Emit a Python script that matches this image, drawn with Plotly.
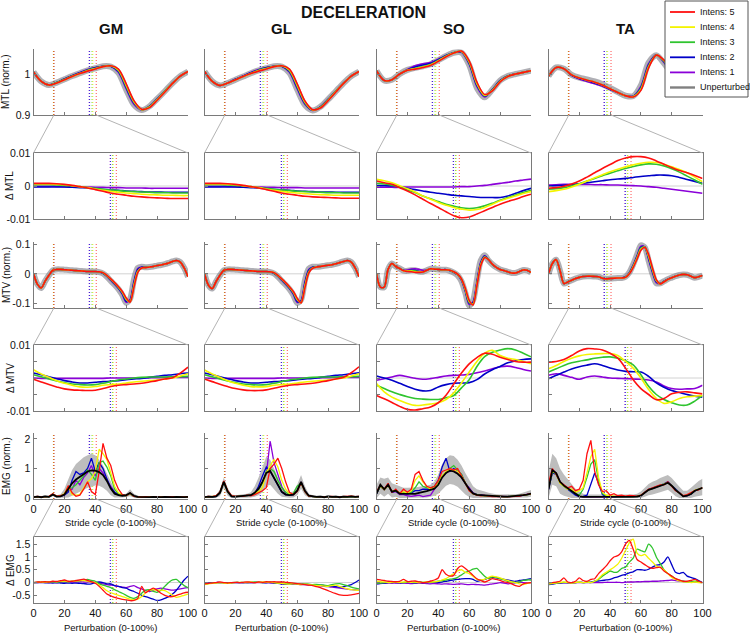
import plotly.graph_objects as go

W, H = 750, 635
SANS = "Liberation Sans, Arial, sans-serif"

MUSCLES = ["GM", "GL", "SO", "TA"]
INTENSITIES = [1, 2, 3, 4, 5]
COLORS = {1: "#8a00d8", 2: "#0000c8", 3: "#2fc42f", 4: "#f4f400", 5: "#ff1010"}
LEGEND_LABELS = {5: "Intens: 5", 4: "Intens: 4", 3: "Intens: 3", 2: "Intens: 2", 1: "Intens: 1"}

# sampling grids (% of stride cycle / % of perturbation)
GRID5 = list(range(0, 101, 5))
GRID25 = [i * 2.5 for i in range(41)]

# event markers (% stride: onset/offset of perturbation; % perturbation: markers)
ONSET = {1: 13.0, 2: 13.1, 3: 12.9, 4: 13.0, 5: 13.2}
OFFSET = {1: 36.0, 2: 36.3, 3: 37.9, 4: 38.4, 5: 40.6}
PERT_MARK = {1: 49.6, 2: 49.9, 3: 51.2, 4: 51.6, 5: 53.6}

# ---------------- MTL (norm.) ----------------
GM_MTL = {
    "unp": [1.005, 0.982, 0.973, 0.979, 0.987, 0.995, 1.002, 1.009, 1.014, 1.019, 1.018, 1.003, 0.962, 0.925, 0.912, 0.921, 0.939, 0.958, 0.978, 0.995, 1.006],
    1: [1.005, 0.982, 0.973, 0.979, 0.988, 0.996, 1.004, 1.011, 1.016, 1.019, 1.019, 1.004, 0.964, 0.926, 0.912, 0.921, 0.939, 0.958, 0.978, 0.995, 1.006],
    2: [1.005, 0.982, 0.973, 0.979, 0.988, 0.996, 1.003, 1.010, 1.015, 1.019, 1.019, 1.006, 0.967, 0.929, 0.913, 0.921, 0.939, 0.958, 0.978, 0.995, 1.006],
    3: [1.005, 0.982, 0.973, 0.979, 0.987, 0.995, 1.002, 1.009, 1.014, 1.019, 1.020, 1.008, 0.970, 0.931, 0.913, 0.920, 0.938, 0.958, 0.978, 0.995, 1.006],
    4: [1.005, 0.982, 0.973, 0.978, 0.986, 0.994, 1.001, 1.008, 1.013, 1.018, 1.020, 1.010, 0.973, 0.933, 0.913, 0.919, 0.937, 0.957, 0.977, 0.995, 1.006],
    5: [1.005, 0.982, 0.973, 0.978, 0.986, 0.994, 1.001, 1.007, 1.012, 1.018, 1.020, 1.012, 0.976, 0.935, 0.914, 0.918, 0.936, 0.956, 0.977, 0.995, 1.006],
}
GL_MTL = {
    "unp": [1.006, 0.982, 0.972, 0.978, 0.986, 0.994, 1.002, 1.009, 1.014, 1.019, 1.018, 1.003, 0.962, 0.924, 0.911, 0.920, 0.938, 0.958, 0.978, 0.995, 1.006],
    1: [1.006, 0.982, 0.972, 0.978, 0.987, 0.995, 1.004, 1.011, 1.016, 1.019, 1.019, 1.004, 0.964, 0.926, 0.911, 0.920, 0.938, 0.958, 0.978, 0.995, 1.006],
    2: [1.006, 0.982, 0.972, 0.978, 0.987, 0.995, 1.003, 1.010, 1.015, 1.019, 1.019, 1.006, 0.967, 0.928, 0.912, 0.920, 0.938, 0.958, 0.978, 0.995, 1.006],
    3: [1.006, 0.982, 0.972, 0.978, 0.986, 0.994, 1.002, 1.009, 1.014, 1.019, 1.020, 1.008, 0.970, 0.930, 0.912, 0.919, 0.937, 0.958, 0.978, 0.995, 1.006],
    4: [1.006, 0.982, 0.972, 0.978, 0.986, 0.994, 1.001, 1.008, 1.013, 1.018, 1.020, 1.010, 0.973, 0.932, 0.912, 0.918, 0.936, 0.957, 0.977, 0.995, 1.006],
    5: [1.006, 0.982, 0.972, 0.978, 0.986, 0.994, 1.001, 1.007, 1.012, 1.018, 1.020, 1.012, 0.976, 0.934, 0.913, 0.917, 0.935, 0.956, 0.977, 0.995, 1.006],
}
SO_MTL = {
    "unp": [1.008, 0.984, 0.986, 1.000, 1.010, 1.015, 1.019, 1.024, 1.034, 1.044, 1.052, 1.052, 1.022, 0.966, 0.943, 0.962, 0.984, 0.995, 1.000, 1.004, 1.008],
    1: [1.008, 0.984, 0.986, 1.000, 1.011, 1.020, 1.025, 1.028, 1.036, 1.045, 1.052, 1.053, 1.024, 0.969, 0.944, 0.962, 0.984, 0.995, 1.000, 1.004, 1.008],
    2: [1.008, 0.984, 0.986, 1.000, 1.010, 1.017, 1.022, 1.026, 1.035, 1.045, 1.052, 1.054, 1.026, 0.972, 0.946, 0.962, 0.984, 0.995, 1.000, 1.004, 1.008],
    3: [1.008, 0.984, 0.986, 1.000, 1.010, 1.014, 1.018, 1.023, 1.033, 1.044, 1.052, 1.055, 1.028, 0.975, 0.947, 0.961, 0.983, 0.995, 1.000, 1.004, 1.008],
    4: [1.008, 0.984, 0.986, 1.000, 1.009, 1.013, 1.017, 1.022, 1.032, 1.043, 1.051, 1.055, 1.030, 0.977, 0.948, 0.960, 0.982, 0.994, 1.000, 1.004, 1.008],
    5: [1.008, 0.984, 0.986, 1.000, 1.009, 1.012, 1.016, 1.021, 1.031, 1.042, 1.051, 1.056, 1.032, 0.980, 0.950, 0.959, 0.981, 0.994, 1.000, 1.004, 1.008],
}
TA_MTL = {
    "unp": [0.995, 1.016, 1.013, 0.998, 0.991, 0.987, 0.982, 0.975, 0.966, 0.956, 0.947, 0.946, 0.972, 1.028, 1.046, 1.026, 1.002, 0.987, 0.984, 0.989, 0.995],
    1: [0.995, 1.016, 1.013, 0.997, 0.988, 0.982, 0.976, 0.970, 0.962, 0.954, 0.947, 0.946, 0.970, 1.025, 1.047, 1.028, 1.002, 0.987, 0.984, 0.989, 0.995],
    2: [0.995, 1.016, 1.013, 0.997, 0.989, 0.984, 0.978, 0.972, 0.963, 0.955, 0.947, 0.946, 0.967, 1.022, 1.047, 1.030, 1.003, 0.987, 0.984, 0.989, 0.995],
    3: [0.995, 1.016, 1.013, 0.998, 0.990, 0.985, 0.980, 0.973, 0.964, 0.955, 0.947, 0.945, 0.965, 1.020, 1.046, 1.031, 1.004, 0.988, 0.984, 0.989, 0.995],
    4: [0.995, 1.016, 1.013, 0.998, 0.990, 0.985, 0.980, 0.973, 0.964, 0.955, 0.947, 0.945, 0.962, 1.017, 1.046, 1.033, 1.005, 0.988, 0.984, 0.989, 0.995],
    5: [0.995, 1.016, 1.013, 0.998, 0.990, 0.985, 0.980, 0.973, 0.964, 0.955, 0.947, 0.944, 0.960, 1.015, 1.046, 1.034, 1.006, 0.988, 0.984, 0.989, 0.995],
}

# ---------------- delta MTL (perturbation window) ----------------
GM_DMTL = {
    5: [0.0008, 0.0008, 0.0008, 0.0007, 0.0005, 0.0002, -0.0002, -0.0006, -0.0011, -0.0016, -0.0021, -0.0025, -0.0028, -0.0031, -0.0033, -0.0035, -0.0036, -0.0037, -0.0038, -0.0038, -0.0038],
    4: [0.0006, 0.0006, 0.0006, 0.0005, 0.0004, 0.0001, -0.0002, -0.0005, -0.0009, -0.0013, -0.0016, -0.0019, -0.0021, -0.0023, -0.0025, -0.0026, -0.0027, -0.0028, -0.0028, -0.0029, -0.0029],
    3: [0.0004, 0.0004, 0.0004, 0.0003, 0.0002, 0.0000, -0.0002, -0.0005, -0.0007, -0.0010, -0.0012, -0.0014, -0.0016, -0.0017, -0.0018, -0.0019, -0.0020, -0.0020, -0.0021, -0.0021, -0.0021],
    2: [-0.0003, -0.0003, -0.0003, -0.0003, -0.0003, -0.0004, -0.0005, -0.0006, -0.0008, -0.0010, -0.0012, -0.0013, -0.0015, -0.0016, -0.0017, -0.0018, -0.0018, -0.0019, -0.0019, -0.0019, -0.0019],
    1: [-0.0001, -0.0001, -0.0001, -0.0001, -0.0002, -0.0002, -0.0003, -0.0003, -0.0004, -0.0004, -0.0005, -0.0005, -0.0006, -0.0006, -0.0006, -0.0007, -0.0007, -0.0007, -0.0007, -0.0007, -0.0007],
}
GL_DMTL = {
    5: [0.0008, 0.0008, 0.0008, 0.0007, 0.0005, 0.0002, -0.0002, -0.0006, -0.0011, -0.0016, -0.0021, -0.0025, -0.0028, -0.0031, -0.0033, -0.0034, -0.0035, -0.0036, -0.0037, -0.0037, -0.0037],
    4: [0.0006, 0.0006, 0.0006, 0.0005, 0.0004, 0.0001, -0.0002, -0.0005, -0.0009, -0.0013, -0.0016, -0.0019, -0.0021, -0.0023, -0.0025, -0.0026, -0.0027, -0.0028, -0.0028, -0.0028, -0.0028],
    3: [0.0004, 0.0004, 0.0004, 0.0003, 0.0002, 0.0000, -0.0002, -0.0005, -0.0007, -0.0010, -0.0012, -0.0014, -0.0016, -0.0017, -0.0018, -0.0019, -0.0020, -0.0020, -0.0021, -0.0021, -0.0021],
    2: [-0.0003, -0.0003, -0.0003, -0.0003, -0.0003, -0.0004, -0.0005, -0.0006, -0.0008, -0.0010, -0.0012, -0.0013, -0.0015, -0.0016, -0.0017, -0.0018, -0.0018, -0.0019, -0.0019, -0.0019, -0.0019],
    1: [-0.0001, -0.0001, -0.0001, -0.0001, -0.0002, -0.0002, -0.0003, -0.0003, -0.0004, -0.0004, -0.0005, -0.0005, -0.0005, -0.0006, -0.0006, -0.0006, -0.0006, -0.0006, -0.0006, -0.0006, -0.0006],
}
SO_DMTL = {
    5: [0.0015, 0.0010, 0.0005, -0.0005, -0.0015, -0.0027, -0.0040, -0.0053, -0.0065, -0.0078, -0.0090, -0.0096, -0.0094, -0.0085, -0.0075, -0.0065, -0.0055, -0.0047, -0.0040, -0.0032, -0.0025],
    4: [0.0020, 0.0016, 0.0010, 0.0001, -0.0008, -0.0018, -0.0030, -0.0040, -0.0050, -0.0058, -0.0065, -0.0070, -0.0073, -0.0071, -0.0065, -0.0055, -0.0045, -0.0037, -0.0030, -0.0023, -0.0017],
    3: [0.0008, 0.0006, 0.0002, -0.0004, -0.0012, -0.0020, -0.0030, -0.0039, -0.0047, -0.0055, -0.0061, -0.0066, -0.0068, -0.0066, -0.0060, -0.0052, -0.0043, -0.0035, -0.0027, -0.0020, -0.0013],
    2: [0.0001, 0.0001, 0.0000, -0.0003, -0.0007, -0.0011, -0.0015, -0.0019, -0.0022, -0.0025, -0.0028, -0.0030, -0.0032, -0.0034, -0.0035, -0.0035, -0.0035, -0.0030, -0.0022, -0.0014, -0.0007],
    1: [-0.0004, -0.0004, -0.0004, -0.0004, -0.0003, -0.0003, -0.0003, -0.0003, -0.0003, -0.0003, -0.0003, -0.0002, -0.0002, 0.0000, 0.0002, 0.0005, 0.0008, 0.0011, 0.0015, 0.0018, 0.0021],
}
TA_DMTL = {
    5: [-0.0007, -0.0005, -0.0001, 0.0006, 0.0015, 0.0027, 0.0040, 0.0053, 0.0065, 0.0077, 0.0085, 0.0089, 0.0089, 0.0085, 0.0076, 0.0066, 0.0056, 0.0047, 0.0040, 0.0032, 0.0023],
    4: [-0.0017, -0.0014, -0.0010, -0.0003, 0.0005, 0.0015, 0.0025, 0.0034, 0.0043, 0.0051, 0.0058, 0.0064, 0.0069, 0.0072, 0.0071, 0.0066, 0.0058, 0.0050, 0.0040, 0.0027, 0.0013],
    3: [-0.0010, -0.0008, -0.0005, 0.0000, 0.0007, 0.0015, 0.0023, 0.0031, 0.0039, 0.0046, 0.0053, 0.0059, 0.0064, 0.0067, 0.0066, 0.0061, 0.0052, 0.0042, 0.0030, 0.0018, 0.0005],
    2: [0.0000, 0.0001, 0.0002, 0.0004, 0.0007, 0.0010, 0.0013, 0.0016, 0.0019, 0.0021, 0.0023, 0.0026, 0.0029, 0.0031, 0.0033, 0.0033, 0.0031, 0.0026, 0.0020, 0.0014, 0.0008],
    1: [0.0003, 0.0004, 0.0005, 0.0005, 0.0005, 0.0005, 0.0004, 0.0004, 0.0003, 0.0003, 0.0002, 0.0001, 0.0000, -0.0002, -0.0004, -0.0007, -0.0010, -0.0013, -0.0016, -0.0019, -0.0022],
}

# ---------------- MTV (norm.) ----------------
GM_MTV = {
    "unp": [0.0, -0.035, -0.048, -0.025, -0.005, 0.012, 0.015, 0.015, 0.014, 0.013, 0.012, 0.011, 0.010, 0.009, 0.008, 0.008, 0.008, 0.006, 0.001, -0.010, -0.024, -0.037, -0.052, -0.072, -0.098, -0.085, -0.020, 0.020, 0.024, 0.022, 0.023, 0.025, 0.028, 0.030, 0.033, 0.037, 0.042, 0.045, 0.040, 0.020, -0.010],
    1: [0.0, -0.035, -0.048, -0.025, -0.005, 0.012, 0.015, 0.015, 0.014, 0.013, 0.012, 0.011, 0.010, 0.009, 0.008, 0.008, 0.008, 0.006, 0.002, -0.009, -0.022, -0.035, -0.050, -0.070, -0.096, -0.088, -0.025, 0.018, 0.023, 0.022, 0.023, 0.025, 0.028, 0.030, 0.033, 0.037, 0.042, 0.045, 0.040, 0.020, -0.010],
    2: [0.0, -0.035, -0.048, -0.025, -0.005, 0.012, 0.015, 0.015, 0.014, 0.013, 0.012, 0.011, 0.010, 0.009, 0.008, 0.008, 0.008, 0.006, 0.002, -0.008, -0.021, -0.034, -0.049, -0.067, -0.093, -0.090, -0.030, 0.015, 0.022, 0.022, 0.023, 0.025, 0.028, 0.030, 0.033, 0.037, 0.042, 0.045, 0.040, 0.020, -0.010],
    3: [0.0, -0.035, -0.048, -0.025, -0.005, 0.012, 0.015, 0.015, 0.014, 0.013, 0.012, 0.011, 0.010, 0.009, 0.008, 0.008, 0.008, 0.007, 0.003, -0.007, -0.019, -0.032, -0.047, -0.064, -0.088, -0.093, -0.036, 0.010, 0.021, 0.022, 0.023, 0.025, 0.028, 0.030, 0.033, 0.037, 0.042, 0.045, 0.040, 0.020, -0.010],
    4: [0.0, -0.035, -0.048, -0.025, -0.005, 0.012, 0.015, 0.015, 0.014, 0.013, 0.012, 0.011, 0.010, 0.009, 0.008, 0.008, 0.008, 0.007, 0.004, -0.006, -0.018, -0.031, -0.045, -0.062, -0.085, -0.095, -0.041, 0.007, 0.020, 0.021, 0.023, 0.025, 0.028, 0.030, 0.033, 0.037, 0.042, 0.045, 0.040, 0.020, -0.010],
    5: [0.0, -0.035, -0.048, -0.025, -0.005, 0.012, 0.015, 0.015, 0.014, 0.013, 0.012, 0.011, 0.010, 0.009, 0.008, 0.008, 0.008, 0.007, 0.004, -0.005, -0.017, -0.030, -0.044, -0.060, -0.082, -0.096, -0.045, 0.005, 0.020, 0.021, 0.023, 0.025, 0.028, 0.030, 0.033, 0.037, 0.042, 0.045, 0.040, 0.020, -0.010],
}
GL_MTV = {
    "unp": [0.0, -0.038, -0.050, -0.026, -0.005, 0.012, 0.015, 0.015, 0.014, 0.013, 0.012, 0.011, 0.010, 0.009, 0.008, 0.008, 0.008, 0.006, 0.001, -0.010, -0.024, -0.037, -0.052, -0.072, -0.099, -0.088, -0.022, 0.017, 0.024, 0.024, 0.025, 0.027, 0.029, 0.031, 0.034, 0.038, 0.042, 0.045, 0.040, 0.020, -0.010],
    1: [0.0, -0.038, -0.050, -0.026, -0.005, 0.012, 0.015, 0.015, 0.014, 0.013, 0.012, 0.011, 0.010, 0.009, 0.008, 0.008, 0.008, 0.006, 0.002, -0.009, -0.022, -0.035, -0.050, -0.070, -0.097, -0.091, -0.027, 0.015, 0.023, 0.024, 0.025, 0.027, 0.029, 0.031, 0.034, 0.038, 0.042, 0.045, 0.040, 0.020, -0.010],
    2: [0.0, -0.038, -0.050, -0.026, -0.005, 0.012, 0.015, 0.015, 0.014, 0.013, 0.012, 0.011, 0.010, 0.009, 0.008, 0.008, 0.008, 0.006, 0.002, -0.008, -0.021, -0.034, -0.049, -0.067, -0.094, -0.093, -0.032, 0.012, 0.022, 0.024, 0.025, 0.027, 0.029, 0.031, 0.034, 0.038, 0.042, 0.045, 0.040, 0.020, -0.010],
    3: [0.0, -0.038, -0.050, -0.026, -0.005, 0.012, 0.015, 0.015, 0.014, 0.013, 0.012, 0.011, 0.010, 0.009, 0.008, 0.008, 0.008, 0.007, 0.003, -0.007, -0.019, -0.032, -0.047, -0.064, -0.089, -0.096, -0.038, 0.008, 0.021, 0.024, 0.025, 0.027, 0.029, 0.031, 0.034, 0.038, 0.042, 0.045, 0.040, 0.020, -0.010],
    4: [0.0, -0.038, -0.050, -0.026, -0.005, 0.012, 0.015, 0.015, 0.014, 0.013, 0.012, 0.011, 0.010, 0.009, 0.008, 0.008, 0.008, 0.007, 0.004, -0.006, -0.018, -0.031, -0.045, -0.062, -0.086, -0.098, -0.043, 0.005, 0.020, 0.023, 0.025, 0.027, 0.029, 0.031, 0.034, 0.038, 0.042, 0.045, 0.040, 0.020, -0.010],
    5: [0.0, -0.038, -0.050, -0.026, -0.005, 0.012, 0.015, 0.015, 0.014, 0.013, 0.012, 0.011, 0.010, 0.009, 0.008, 0.008, 0.008, 0.007, 0.004, -0.005, -0.017, -0.030, -0.044, -0.060, -0.083, -0.099, -0.047, 0.003, 0.019, 0.023, 0.025, 0.027, 0.029, 0.031, 0.034, 0.038, 0.042, 0.045, 0.040, 0.020, -0.010],
}
SO_MTV = {
    "unp": [0.0, -0.045, -0.045, 0.015, 0.035, 0.025, 0.018, 0.011, 0.010, 0.012, 0.012, 0.008, 0.007, 0.012, 0.017, 0.016, 0.015, 0.014, 0.014, 0.010, 0.004, -0.005, -0.025, -0.065, -0.108, -0.090, -0.020, 0.045, 0.063, 0.045, 0.032, 0.022, 0.015, 0.011, 0.007, 0.003, 0.003, 0.008, 0.013, 0.012, 0.005],
    1: [0.0, -0.045, -0.045, 0.015, 0.035, 0.025, 0.018, 0.012, 0.013, 0.016, 0.017, 0.015, 0.012, 0.013, 0.017, 0.016, 0.015, 0.014, 0.014, 0.011, 0.005, -0.003, -0.022, -0.060, -0.104, -0.095, -0.026, 0.040, 0.061, 0.047, 0.032, 0.022, 0.015, 0.011, 0.007, 0.003, 0.003, 0.008, 0.013, 0.012, 0.005],
    2: [0.0, -0.045, -0.045, 0.015, 0.035, 0.025, 0.018, 0.011, 0.010, 0.012, 0.012, 0.008, 0.007, 0.012, 0.017, 0.016, 0.015, 0.014, 0.014, 0.011, 0.005, -0.003, -0.020, -0.057, -0.100, -0.098, -0.030, 0.037, 0.060, 0.048, 0.032, 0.022, 0.015, 0.011, 0.007, 0.003, 0.003, 0.008, 0.013, 0.012, 0.005],
    3: [0.0, -0.045, -0.045, 0.015, 0.035, 0.025, 0.018, 0.011, 0.010, 0.011, 0.010, 0.007, 0.007, 0.012, 0.017, 0.016, 0.015, 0.014, 0.014, 0.011, 0.006, -0.002, -0.019, -0.055, -0.097, -0.101, -0.034, 0.034, 0.058, 0.048, 0.032, 0.022, 0.015, 0.011, 0.007, 0.003, 0.003, 0.008, 0.013, 0.012, 0.005],
    4: [0.0, -0.045, -0.045, 0.015, 0.035, 0.025, 0.018, 0.010, 0.009, 0.009, 0.007, 0.006, 0.006, 0.012, 0.017, 0.016, 0.015, 0.014, 0.014, 0.012, 0.006, -0.002, -0.018, -0.052, -0.093, -0.104, -0.037, 0.031, 0.056, 0.048, 0.033, 0.022, 0.015, 0.011, 0.007, 0.003, 0.003, 0.008, 0.013, 0.012, 0.005],
    5: [0.0, -0.045, -0.045, 0.015, 0.035, 0.025, 0.018, 0.010, 0.008, 0.007, 0.005, 0.005, 0.006, 0.012, 0.017, 0.016, 0.015, 0.014, 0.014, 0.012, 0.007, -0.001, -0.017, -0.050, -0.090, -0.106, -0.040, 0.028, 0.055, 0.048, 0.033, 0.022, 0.015, 0.011, 0.007, 0.003, 0.003, 0.008, 0.013, 0.012, 0.005],
}
TA_MTV = {
    "unp": [0.0, 0.035, 0.048, 0.010, -0.033, -0.028, -0.022, -0.016, -0.012, -0.009, -0.008, -0.008, -0.009, -0.010, -0.015, -0.017, -0.016, -0.015, -0.014, -0.014, -0.010, 0.005, 0.032, 0.065, 0.097, 0.090, 0.045, 0.000, -0.032, -0.032, -0.025, -0.018, -0.013, -0.008, -0.004, -0.002, -0.003, -0.008, -0.013, -0.010, -0.006],
    1: [0.0, 0.035, 0.048, 0.010, -0.033, -0.028, -0.022, -0.016, -0.012, -0.009, -0.008, -0.008, -0.009, -0.010, -0.015, -0.017, -0.016, -0.015, -0.014, -0.014, -0.010, 0.004, 0.030, 0.062, 0.094, 0.091, 0.049, 0.004, -0.030, -0.033, -0.025, -0.018, -0.013, -0.008, -0.004, -0.002, -0.003, -0.008, -0.013, -0.010, -0.006],
    2: [0.0, 0.035, 0.048, 0.010, -0.033, -0.028, -0.022, -0.016, -0.012, -0.009, -0.008, -0.008, -0.009, -0.010, -0.015, -0.017, -0.016, -0.015, -0.014, -0.014, -0.011, 0.003, 0.028, 0.059, 0.090, 0.091, 0.053, 0.008, -0.027, -0.033, -0.026, -0.018, -0.013, -0.008, -0.004, -0.002, -0.003, -0.008, -0.013, -0.010, -0.006],
    3: [0.0, 0.035, 0.048, 0.010, -0.033, -0.028, -0.022, -0.016, -0.012, -0.009, -0.008, -0.008, -0.009, -0.010, -0.015, -0.017, -0.016, -0.015, -0.014, -0.014, -0.011, 0.002, 0.026, 0.056, 0.087, 0.091, 0.057, 0.012, -0.024, -0.034, -0.026, -0.019, -0.013, -0.008, -0.004, -0.002, -0.003, -0.008, -0.013, -0.010, -0.006],
    4: [0.0, 0.035, 0.048, 0.010, -0.033, -0.028, -0.022, -0.016, -0.012, -0.009, -0.008, -0.008, -0.009, -0.010, -0.015, -0.017, -0.016, -0.015, -0.014, -0.014, -0.012, 0.001, 0.024, 0.053, 0.083, 0.090, 0.061, 0.016, -0.022, -0.034, -0.027, -0.019, -0.013, -0.008, -0.004, -0.002, -0.003, -0.008, -0.013, -0.010, -0.006],
    5: [0.0, 0.035, 0.048, 0.010, -0.033, -0.028, -0.022, -0.016, -0.012, -0.009, -0.008, -0.008, -0.009, -0.010, -0.015, -0.017, -0.016, -0.015, -0.014, -0.014, -0.012, 0.000, 0.022, 0.050, 0.080, 0.090, 0.065, 0.020, -0.020, -0.034, -0.027, -0.019, -0.013, -0.008, -0.004, -0.002, -0.003, -0.008, -0.013, -0.010, -0.006],
}

# ---------------- delta MTV ----------------
GM_DMTV = {
    5: [-0.0004, -0.0012, -0.0020, -0.0027, -0.0033, -0.0036, -0.0037, -0.0038, -0.0037, -0.0032, -0.0026, -0.0022, -0.0020, -0.0018, -0.0016, -0.0012, -0.0008, -0.0003, 0.0001, 0.0015, 0.0033],
    4: [0.0025, 0.0012, 0.0002, -0.0008, -0.0016, -0.0022, -0.0027, -0.0028, -0.0026, -0.0022, -0.0020, -0.0018, -0.0015, -0.0012, -0.0010, -0.0008, -0.0006, -0.0003, 0.0000, 0.0006, 0.0013],
    3: [0.0010, 0.0004, -0.0003, -0.0009, -0.0014, -0.0018, -0.0020, -0.0021, -0.0020, -0.0016, -0.0011, -0.0006, -0.0003, 0.0000, 0.0002, 0.0003, 0.0003, 0.0003, 0.0004, 0.0004, 0.0005],
    2: [0.0015, 0.0010, 0.0004, -0.0002, -0.0008, -0.0012, -0.0015, -0.0015, -0.0013, -0.0011, -0.0010, -0.0008, -0.0005, -0.0003, -0.0001, 0.0002, 0.0005, 0.0008, 0.0010, 0.0013, 0.0015],
    1: [0.0000, -0.0001, -0.0001, -0.0001, -0.0001, -0.0001, -0.0001, -0.0001, -0.0001, -0.0001, 0.0000, 0.0000, 0.0000, 0.0000, 0.0000, 0.0001, 0.0001, 0.0001, 0.0002, 0.0002, 0.0002],
}
GL_DMTV = {
    5: [-0.0003, -0.0011, -0.0019, -0.0026, -0.0032, -0.0036, -0.0038, -0.0038, -0.0036, -0.0031, -0.0026, -0.0022, -0.0020, -0.0018, -0.0016, -0.0012, -0.0008, -0.0003, 0.0002, 0.0016, 0.0034],
    4: [0.0024, 0.0012, 0.0002, -0.0008, -0.0016, -0.0022, -0.0026, -0.0027, -0.0026, -0.0022, -0.0020, -0.0018, -0.0015, -0.0012, -0.0010, -0.0008, -0.0006, -0.0003, 0.0000, 0.0006, 0.0013],
    3: [0.0010, 0.0004, -0.0003, -0.0009, -0.0014, -0.0018, -0.0020, -0.0021, -0.0020, -0.0016, -0.0011, -0.0006, -0.0003, 0.0000, 0.0002, 0.0003, 0.0003, 0.0003, 0.0004, 0.0004, 0.0005],
    2: [0.0015, 0.0010, 0.0004, -0.0002, -0.0008, -0.0012, -0.0015, -0.0015, -0.0013, -0.0011, -0.0010, -0.0008, -0.0005, -0.0003, -0.0001, 0.0002, 0.0005, 0.0008, 0.0010, 0.0013, 0.0016],
    1: [0.0000, -0.0001, -0.0001, -0.0001, -0.0001, -0.0001, -0.0001, -0.0001, -0.0001, -0.0001, 0.0000, 0.0000, 0.0000, 0.0000, 0.0000, 0.0001, 0.0001, 0.0001, 0.0002, 0.0002, 0.0002],
}
SO_DMTV = {
    5: [-0.0053, -0.0063, -0.0074, -0.0086, -0.0095, -0.0097, -0.0093, -0.0088, -0.0075, -0.0052, -0.0018, 0.0015, 0.0043, 0.0062, 0.0075, 0.0072, 0.0063, 0.0056, 0.0050, 0.0048, 0.0048],
    4: [-0.0017, -0.0042, -0.0058, -0.0068, -0.0077, -0.0083, -0.0082, -0.0079, -0.0075, -0.0065, -0.0045, -0.0015, 0.0018, 0.0050, 0.0075, 0.0084, 0.0068, 0.0060, 0.0056, 0.0050, 0.0043],
    3: [-0.0022, -0.0032, -0.0042, -0.0050, -0.0057, -0.0062, -0.0064, -0.0065, -0.0065, -0.0060, -0.0053, -0.0030, -0.0005, 0.0035, 0.0065, 0.0078, 0.0085, 0.0089, 0.0085, 0.0075, 0.0064],
    2: [0.0006, 0.0000, -0.0007, -0.0016, -0.0026, -0.0034, -0.0039, -0.0038, -0.0027, -0.0020, -0.0016, -0.0015, -0.0014, -0.0005, 0.0012, 0.0025, 0.0035, 0.0046, 0.0052, 0.0056, 0.0058],
    1: [-0.0007, -0.0002, 0.0003, 0.0008, 0.0004, -0.0001, -0.0004, -0.0002, 0.0002, 0.0006, 0.0008, 0.0009, 0.0011, 0.0016, 0.0021, 0.0028, 0.0034, 0.0036, 0.0032, 0.0026, 0.0021],
}
TA_DMTV = {
    5: [0.0048, 0.0050, 0.0056, 0.0068, 0.0082, 0.0089, 0.0088, 0.0085, 0.0075, 0.0060, 0.0030, -0.0005, -0.0032, -0.0050, -0.0066, -0.0062, -0.0048, -0.0043, -0.0042, -0.0045, -0.0048],
    4: [0.0028, 0.0038, 0.0050, 0.0060, 0.0067, 0.0071, 0.0073, 0.0074, 0.0074, 0.0068, 0.0050, 0.0030, 0.0000, -0.0035, -0.0062, -0.0077, -0.0072, -0.0062, -0.0057, -0.0055, -0.0053],
    3: [0.0018, 0.0028, 0.0038, 0.0046, 0.0051, 0.0055, 0.0060, 0.0063, 0.0064, 0.0060, 0.0052, 0.0040, 0.0010, -0.0025, -0.0050, -0.0065, -0.0075, -0.0082, -0.0082, -0.0070, -0.0053],
    2: [-0.0002, 0.0008, 0.0018, 0.0027, 0.0034, 0.0039, 0.0043, 0.0038, 0.0030, 0.0024, 0.0020, 0.0019, 0.0018, 0.0005, -0.0015, -0.0028, -0.0038, -0.0044, -0.0050, -0.0055, -0.0058],
    1: [0.0008, 0.0013, 0.0008, 0.0002, -0.0004, 0.0003, 0.0006, 0.0003, 0.0000, -0.0001, -0.0002, -0.0003, -0.0004, -0.0006, -0.0012, -0.0024, -0.0032, -0.0034, -0.0033, -0.0032, -0.0022],
}

# ---------------- EMG (norm.) ----------------
GM_EMG = {
    "unp": [0.03, 0.05, 0.03, 0.06, 0.04, 0.12, 0.05, 0.06, 0.12, 0.30, 0.50, 0.63, 0.72, 0.82, 0.90, 0.94, 0.93, 0.88, 0.78, 0.58, 0.32, 0.15, 0.10, 0.08, 0.10, 0.17, 0.08, 0.04, 0.03, 0.04, 0.03, 0.04, 0.03, 0.03, 0.04, 0.03, 0.03, 0.04, 0.03, 0.03, 0.04],
    "up": [0.07, 0.09, 0.07, 0.10, 0.08, 0.18, 0.10, 0.13, 0.32, 0.65, 0.95, 1.15, 1.28, 1.38, 1.45, 1.50, 1.45, 1.30, 1.10, 0.85, 0.55, 0.30, 0.18, 0.13, 0.15, 0.30, 0.15, 0.08, 0.06, 0.07, 0.06, 0.07, 0.06, 0.06, 0.07, 0.06, 0.06, 0.07, 0.06, 0.06, 0.07],
    "lo": [0.0, 0.01, 0.0, 0.02, 0.0, 0.06, 0.0, 0.01, 0.0, 0.02, 0.08, 0.14, 0.20, 0.28, 0.35, 0.40, 0.43, 0.42, 0.35, 0.25, 0.10, 0.02, 0.01, 0.02, 0.04, 0.06, 0.02, 0.0, 0.0, 0.01, 0.0, 0.01, 0.0, 0.0, 0.01, 0.0, 0.0, 0.01, 0.0, 0.0, 0.01],
    5: [0.03, 0.06, 0.04, 0.05, 0.06, 0.15, 0.06, 0.08, 0.12, 0.42, 0.18, 0.06, 0.10, 0.30, 0.55, 0.22, 0.12, 0.90, 1.85, 1.35, 1.10, 0.60, 0.30, 0.12, 0.08, 0.17, 0.06, 0.05, 0.03, 0.05, 0.03, 0.04, 0.05, 0.03, 0.04, 0.03, 0.05, 0.03, 0.04, 0.03, 0.04],
    4: [0.03, 0.05, 0.04, 0.05, 0.05, 0.13, 0.06, 0.07, 0.15, 0.40, 0.12, 0.10, 0.12, 0.35, 0.55, 0.65, 0.90, 1.65, 1.50, 1.30, 0.85, 0.40, 0.18, 0.10, 0.08, 0.16, 0.06, 0.04, 0.03, 0.04, 0.03, 0.04, 0.04, 0.03, 0.04, 0.03, 0.04, 0.03, 0.04, 0.03, 0.04],
    3: [0.03, 0.05, 0.04, 0.05, 0.05, 0.12, 0.06, 0.07, 0.12, 0.30, 0.35, 0.45, 0.60, 0.75, 0.95, 0.80, 0.60, 1.20, 1.25, 1.05, 0.75, 0.30, 0.15, 0.10, 0.08, 0.16, 0.06, 0.04, 0.03, 0.04, 0.03, 0.04, 0.04, 0.03, 0.04, 0.03, 0.04, 0.03, 0.04, 0.03, 0.04],
    2: [0.03, 0.05, 0.04, 0.05, 0.05, 0.12, 0.06, 0.07, 0.10, 0.20, 0.60, 0.90, 0.80, 0.85, 1.00, 1.35, 0.90, 1.20, 1.00, 0.65, 0.35, 0.20, 0.12, 0.09, 0.08, 0.16, 0.06, 0.04, 0.03, 0.04, 0.03, 0.04, 0.04, 0.03, 0.04, 0.03, 0.04, 0.03, 0.04, 0.03, 0.04],
    1: [0.03, 0.05, 0.04, 0.05, 0.05, 0.12, 0.06, 0.07, 0.10, 0.25, 0.30, 0.60, 0.45, 0.70, 0.85, 1.10, 0.75, 1.00, 0.85, 0.60, 0.40, 0.20, 0.12, 0.09, 0.08, 0.16, 0.06, 0.04, 0.03, 0.04, 0.03, 0.04, 0.04, 0.03, 0.04, 0.03, 0.04, 0.03, 0.04, 0.03, 0.04],
}
GL_EMG = {
    "unp": [0.03, 0.05, 0.04, 0.06, 0.18, 0.55, 0.22, 0.06, 0.05, 0.06, 0.08, 0.07, 0.10, 0.18, 0.32, 0.55, 0.85, 0.92, 0.70, 0.45, 0.22, 0.12, 0.10, 0.12, 0.25, 0.55, 0.25, 0.08, 0.05, 0.04, 0.05, 0.03, 0.06, 0.04, 0.05, 0.03, 0.05, 0.04, 0.06, 0.04, 0.05],
    "up": [0.06, 0.09, 0.08, 0.10, 0.30, 0.70, 0.35, 0.12, 0.10, 0.12, 0.15, 0.15, 0.20, 0.40, 0.70, 1.05, 1.40, 1.30, 1.00, 0.70, 0.40, 0.25, 0.20, 0.22, 0.45, 0.78, 0.40, 0.15, 0.10, 0.08, 0.09, 0.07, 0.10, 0.08, 0.09, 0.07, 0.09, 0.08, 0.10, 0.08, 0.09],
    "lo": [0.0, 0.01, 0.0, 0.02, 0.06, 0.35, 0.08, 0.0, 0.0, 0.0, 0.01, 0.0, 0.02, 0.05, 0.10, 0.20, 0.40, 0.45, 0.30, 0.15, 0.05, 0.02, 0.01, 0.02, 0.10, 0.32, 0.10, 0.01, 0.0, 0.0, 0.01, 0.0, 0.02, 0.0, 0.01, 0.0, 0.01, 0.0, 0.02, 0.0, 0.01],
    5: [0.04, 0.06, 0.05, 0.08, 0.20, 0.58, 0.25, 0.08, 0.06, 0.07, 0.06, 0.10, 0.08, 0.12, 0.18, 0.25, 0.35, 1.00, 1.15, 1.35, 1.00, 0.55, 0.20, 0.12, 0.22, 0.52, 0.22, 0.07, 0.06, 0.05, 0.06, 0.04, 0.05, 0.06, 0.04, 0.05, 0.06, 0.05, 0.07, 0.05, 0.06],
    4: [0.03, 0.05, 0.05, 0.07, 0.18, 0.55, 0.22, 0.07, 0.05, 0.06, 0.07, 0.08, 0.10, 0.15, 0.22, 0.35, 0.85, 1.10, 1.30, 1.05, 0.60, 0.30, 0.15, 0.12, 0.24, 0.53, 0.24, 0.07, 0.05, 0.04, 0.05, 0.04, 0.05, 0.05, 0.04, 0.04, 0.05, 0.04, 0.06, 0.04, 0.05],
    3: [0.03, 0.05, 0.04, 0.06, 0.18, 0.55, 0.22, 0.06, 0.05, 0.06, 0.08, 0.08, 0.10, 0.18, 0.30, 0.50, 0.90, 1.00, 0.90, 0.60, 0.35, 0.20, 0.12, 0.15, 0.40, 0.50, 0.22, 0.07, 0.05, 0.04, 0.05, 0.03, 0.05, 0.04, 0.05, 0.03, 0.05, 0.04, 0.05, 0.04, 0.05],
    2: [0.03, 0.05, 0.04, 0.06, 0.17, 0.54, 0.22, 0.06, 0.05, 0.06, 0.08, 0.07, 0.10, 0.15, 0.40, 0.75, 1.05, 0.90, 0.65, 0.40, 0.20, 0.12, 0.10, 0.12, 0.25, 0.52, 0.24, 0.07, 0.05, 0.04, 0.05, 0.03, 0.05, 0.04, 0.05, 0.03, 0.05, 0.04, 0.05, 0.04, 0.05],
    1: [0.03, 0.05, 0.04, 0.06, 0.18, 0.55, 0.22, 0.06, 0.05, 0.06, 0.08, 0.07, 0.10, 0.18, 0.30, 0.55, 0.80, 1.93, 1.20, 0.80, 0.40, 0.15, 0.10, 0.12, 0.25, 0.54, 0.25, 0.07, 0.05, 0.04, 0.05, 0.03, 0.05, 0.04, 0.05, 0.03, 0.05, 0.04, 0.05, 0.04, 0.05],
}
SO_EMG = {
    "unp": [0.15, 0.45, 0.30, 0.45, 0.22, 0.25, 0.15, 0.15, 0.13, 0.15, 0.14, 0.18, 0.20, 0.24, 0.28, 0.32, 0.45, 0.70, 0.85, 0.93, 0.90, 0.82, 0.70, 0.50, 0.30, 0.16, 0.11, 0.10, 0.09, 0.07, 0.06, 0.06, 0.05, 0.05, 0.05, 0.06, 0.06, 0.08, 0.10, 0.12, 0.15],
    "up": [0.45, 0.70, 0.65, 0.70, 0.50, 0.45, 0.38, 0.35, 0.35, 0.35, 0.36, 0.38, 0.40, 0.42, 0.45, 0.55, 0.80, 1.15, 1.35, 1.45, 1.42, 1.30, 1.10, 0.85, 0.60, 0.40, 0.30, 0.25, 0.22, 0.18, 0.15, 0.13, 0.12, 0.12, 0.12, 0.13, 0.13, 0.15, 0.20, 0.23, 0.27],
    "lo": [0.0, 0.15, 0.05, 0.15, 0.02, 0.05, 0.0, 0.0, 0.0, 0.0, 0.0, 0.0, 0.0, 0.02, 0.05, 0.08, 0.15, 0.28, 0.42, 0.48, 0.45, 0.38, 0.25, 0.12, 0.04, 0.0, 0.0, 0.0, 0.0, 0.0, 0.0, 0.0, 0.0, 0.0, 0.0, 0.0, 0.0, 0.0, 0.0, 0.02, 0.05],
    5: [0.20, 0.45, 0.30, 0.50, 0.20, 0.30, 0.15, 0.30, 0.20, 0.30, 0.80, 0.90, 0.60, 0.40, 0.35, 0.40, 0.60, 0.90, 0.95, 1.00, 0.95, 1.00, 0.75, 0.50, 0.25, 0.15, 0.10, 0.08, 0.09, 0.07, 0.05, 0.06, 0.05, 0.04, 0.05, 0.05, 0.05, 0.07, 0.10, 0.12, 0.15],
    4: [0.18, 0.40, 0.28, 0.42, 0.22, 0.26, 0.18, 0.22, 0.18, 0.25, 0.60, 0.75, 0.55, 0.40, 0.30, 0.35, 0.50, 0.75, 0.90, 0.95, 0.95, 0.90, 0.75, 0.50, 0.28, 0.15, 0.10, 0.09, 0.08, 0.07, 0.06, 0.06, 0.05, 0.05, 0.05, 0.06, 0.06, 0.08, 0.10, 0.12, 0.14],
    3: [0.16, 0.42, 0.30, 0.44, 0.22, 0.24, 0.16, 0.18, 0.15, 0.20, 0.35, 0.55, 0.40, 0.35, 0.35, 0.40, 0.55, 0.75, 0.85, 1.00, 1.10, 0.95, 0.80, 0.50, 0.28, 0.15, 0.11, 0.09, 0.08, 0.07, 0.06, 0.06, 0.05, 0.05, 0.05, 0.06, 0.06, 0.08, 0.10, 0.12, 0.15],
    2: [0.15, 0.40, 0.28, 0.45, 0.20, 0.25, 0.14, 0.16, 0.14, 0.18, 0.25, 0.25, 0.30, 0.30, 0.30, 0.40, 0.60, 1.05, 1.35, 0.90, 1.00, 0.90, 0.80, 0.50, 0.30, 0.16, 0.11, 0.10, 0.08, 0.07, 0.06, 0.06, 0.05, 0.05, 0.05, 0.06, 0.06, 0.08, 0.10, 0.12, 0.15],
    1: [0.15, 0.42, 0.28, 0.44, 0.20, 0.22, 0.12, 0.12, 0.08, 0.06, 0.08, 0.10, 0.05, 0.08, 0.10, 0.30, 0.50, 0.70, 0.85, 0.92, 0.95, 0.85, 0.70, 0.50, 0.35, 0.18, 0.12, 0.10, 0.08, 0.07, 0.06, 0.06, 0.05, 0.05, 0.05, 0.06, 0.06, 0.08, 0.10, 0.12, 0.15],
}
TA_EMG = {
    "unp": [0.30, 0.95, 0.85, 0.55, 0.42, 0.33, 0.22, 0.12, 0.06, 0.04, 0.04, 0.05, 0.04, 0.04, 0.05, 0.04, 0.04, 0.05, 0.04, 0.04, 0.05, 0.04, 0.04, 0.05, 0.08, 0.18, 0.28, 0.32, 0.36, 0.42, 0.46, 0.52, 0.42, 0.28, 0.18, 0.06, 0.08, 0.14, 0.25, 0.30, 0.35],
    "up": [0.90, 1.50, 1.35, 1.00, 0.80, 0.62, 0.48, 0.32, 0.22, 0.15, 0.12, 0.12, 0.12, 0.12, 0.12, 0.12, 0.12, 0.12, 0.12, 0.12, 0.12, 0.12, 0.12, 0.15, 0.22, 0.35, 0.48, 0.55, 0.60, 0.68, 0.72, 0.78, 0.68, 0.52, 0.38, 0.25, 0.25, 0.35, 0.48, 0.58, 0.65],
    "lo": [0.0, 0.45, 0.40, 0.15, 0.08, 0.05, 0.0, 0.0, 0.0, 0.0, 0.0, 0.0, 0.0, 0.0, 0.0, 0.0, 0.0, 0.0, 0.0, 0.0, 0.0, 0.0, 0.0, 0.0, 0.0, 0.05, 0.10, 0.12, 0.15, 0.20, 0.24, 0.28, 0.18, 0.06, 0.0, 0.0, 0.0, 0.0, 0.05, 0.08, 0.10],
    5: [0.50, 1.00, 0.80, 0.55, 0.45, 0.35, 0.40, 0.25, 0.30, 0.60, 1.50, 1.95, 0.90, 0.45, 0.22, 0.25, 0.10, 0.15, 0.08, 0.10, 0.07, 0.09, 0.08, 0.06, 0.10, 0.20, 0.30, 0.35, 0.40, 0.45, 0.45, 0.55, 0.40, 0.25, 0.18, 0.08, 0.12, 0.18, 0.25, 0.28, 0.35],
    4: [0.40, 0.90, 0.85, 0.50, 0.40, 0.30, 0.30, 0.20, 0.25, 0.35, 0.85, 1.40, 1.65, 0.70, 0.20, 0.10, 0.08, 0.06, 0.05, 0.06, 0.05, 0.06, 0.05, 0.06, 0.09, 0.19, 0.29, 0.33, 0.38, 0.44, 0.47, 0.52, 0.42, 0.27, 0.17, 0.07, 0.10, 0.16, 0.26, 0.30, 0.35],
    3: [0.35, 0.92, 0.80, 0.52, 0.40, 0.32, 0.25, 0.15, 0.10, 0.30, 0.70, 1.15, 1.30, 0.60, 0.15, 0.08, 0.05, 0.06, 0.05, 0.05, 0.06, 0.05, 0.05, 0.06, 0.09, 0.19, 0.28, 0.33, 0.37, 0.43, 0.47, 0.53, 0.42, 0.27, 0.18, 0.07, 0.09, 0.15, 0.25, 0.30, 0.34],
    2: [0.30, 0.85, 0.80, 0.55, 0.40, 0.30, 0.20, 0.10, 0.05, 0.06, 0.10, 0.45, 0.85, 0.50, 0.12, 0.05, 0.04, 0.05, 0.04, 0.04, 0.05, 0.04, 0.04, 0.05, 0.08, 0.20, 0.30, 0.34, 0.38, 0.43, 0.48, 0.55, 0.43, 0.28, 0.18, 0.06, 0.08, 0.14, 0.24, 0.30, 0.35],
    1: [0.30, 0.95, 0.85, 0.55, 0.42, 0.33, 0.22, 0.12, 0.06, 0.04, 0.05, 0.05, 0.04, 0.05, 0.05, 0.04, 0.05, 0.05, 0.04, 0.05, 0.05, 0.04, 0.05, 0.05, 0.08, 0.18, 0.28, 0.32, 0.36, 0.42, 0.46, 0.52, 0.42, 0.28, 0.18, 0.06, 0.08, 0.14, 0.25, 0.30, 0.35],
}

# ---------------- delta EMG ----------------
GM_DEMG = {
    5: [0.0, 0.02, 0.02, 0.03, 0.02, 0.05, 0.04, 0.07, 0.10, 0.05, 0.05, 0.08, 0.10, 0.13, 0.08, 0.03, -0.03, -0.15, -0.30, -0.45, -0.52, -0.58, -0.62, -0.66, -0.68, -0.71, -0.70, -0.62, -0.15, -0.40, -0.30, -0.22, -0.30, -0.42, -0.50, -0.55, -0.55, -0.50, -0.45, -0.40, -0.38],
    4: [0.0, 0.01, 0.02, 0.02, 0.03, 0.04, 0.03, 0.05, 0.06, 0.04, 0.05, 0.06, 0.07, 0.08, 0.06, 0.02, 0.0, -0.10, -0.20, -0.32, -0.40, -0.45, -0.50, -0.55, -0.60, -0.65, -0.68, -0.65, -0.55, -0.40, -0.30, -0.28, -0.30, -0.30, -0.32, -0.40, -0.50, -0.58, -0.55, -0.50, -0.45],
    3: [0.0, 0.01, 0.01, 0.02, 0.02, 0.03, 0.02, 0.03, 0.04, 0.03, 0.05, 0.06, 0.08, 0.10, 0.12, 0.08, 0.05, -0.05, -0.10, -0.15, -0.20, -0.28, -0.35, -0.42, -0.50, -0.58, -0.62, -0.55, -0.42, -0.30, -0.28, -0.35, -0.38, -0.30, -0.15, 0.0, 0.10, 0.12, 0.0, -0.12, -0.20],
    2: [0.0, 0.0, 0.0, -0.01, -0.01, -0.02, -0.01, -0.02, -0.03, -0.02, -0.03, -0.02, -0.03, -0.04, -0.06, -0.05, 0.0, 0.02, 0.0, -0.05, -0.05, -0.12, -0.15, -0.20, -0.22, -0.30, -0.35, -0.42, -0.50, -0.55, -0.60, -0.65, -0.70, -0.68, -0.62, -0.55, -0.45, -0.30, -0.10, 0.10, 0.25],
    1: [0.0, 0.0, 0.01, 0.01, 0.0, 0.01, 0.0, 0.01, 0.02, 0.01, 0.02, 0.02, 0.03, 0.02, 0.02, 0.03, 0.0, -0.02, -0.05, -0.08, -0.10, -0.12, -0.15, -0.18, -0.20, -0.15, -0.12, -0.20, -0.25, -0.32, -0.35, -0.30, -0.25, -0.22, -0.25, -0.28, -0.30, -0.28, -0.25, -0.22, -0.20],
}
GL_DEMG = {
    5: [-0.05, -0.03, -0.02, 0.0, 0.02, 0.0, -0.02, 0.0, 0.01, 0.0, 0.01, 0.02, 0.01, 0.0, 0.02, 0.01, 0.03, 0.02, 0.03, 0.02, 0.02, 0.01, 0.0, -0.02, -0.04, -0.06, -0.08, -0.10, -0.12, -0.16, -0.20, -0.26, -0.32, -0.38, -0.43, -0.48, -0.50, -0.50, -0.48, -0.45, -0.42],
    4: [-0.08, -0.05, -0.03, -0.02, 0.0, -0.02, -0.03, -0.01, 0.0, 0.01, 0.0, 0.01, 0.02, 0.0, 0.01, 0.02, 0.02, 0.01, 0.0, -0.02, -0.03, -0.05, -0.06, -0.05, -0.06, -0.08, -0.06, -0.08, -0.10, -0.12, -0.12, -0.14, -0.15, -0.12, -0.10, -0.15, -0.20, -0.25, -0.28, -0.30, -0.30],
    3: [-0.06, -0.04, -0.02, -0.01, 0.0, -0.01, -0.02, 0.0, 0.01, 0.0, 0.01, 0.0, 0.01, 0.02, 0.01, 0.0, 0.01, 0.02, 0.0, -0.02, -0.03, -0.04, -0.05, -0.03, -0.04, -0.06, -0.05, -0.06, -0.08, -0.07, -0.09, -0.10, -0.12, -0.08, -0.05, -0.04, -0.08, -0.12, -0.18, -0.22, -0.25],
    2: [-0.04, -0.02, -0.01, 0.0, 0.0, -0.01, 0.0, -0.01, 0.0, 0.0, -0.01, 0.0, 0.0, 0.0, 0.01, 0.0, -0.01, 0.0, -0.02, -0.03, -0.05, -0.06, -0.04, -0.05, -0.06, -0.07, -0.06, -0.08, -0.10, -0.09, -0.10, -0.12, -0.14, -0.15, -0.16, -0.18, -0.16, -0.12, -0.08, 0.0, 0.10],
    1: [-0.03, -0.02, -0.01, 0.0, 0.0, 0.0, 0.0, 0.0, 0.0, 0.0, 0.0, 0.0, 0.0, 0.0, 0.0, 0.0, 0.0, -0.01, -0.02, -0.03, -0.04, -0.05, -0.05, -0.06, -0.07, -0.08, -0.08, -0.10, -0.10, -0.12, -0.13, -0.15, -0.16, -0.18, -0.20, -0.22, -0.24, -0.26, -0.28, -0.29, -0.30],
}
SO_DEMG = {
    5: [0.12, 0.10, 0.08, 0.05, 0.04, 0.03, 0.05, 0.12, 0.04, 0.05, 0.06, 0.03, 0.0, 0.02, 0.06, 0.10, 0.18, 0.50, 0.32, 0.25, 0.28, 0.55, 0.65, 0.55, 0.42, 0.28, 0.15, 0.08, 0.02, 0.08, 0.15, 0.12, 0.08, 0.03, 0.0, -0.05, -0.12, -0.15, -0.05, -0.02, 0.0],
    4: [0.05, 0.03, 0.02, 0.0, 0.01, 0.02, 0.0, 0.02, 0.03, 0.01, 0.02, 0.0, 0.01, 0.03, 0.02, 0.03, 0.05, 0.10, 0.15, 0.25, 0.35, 0.45, 0.50, 0.40, 0.35, 0.25, 0.12, 0.10, 0.12, 0.20, 0.25, 0.22, 0.18, 0.12, 0.08, 0.03, 0.0, -0.05, -0.08, -0.03, 0.0],
    3: [-0.03, -0.02, 0.0, 0.01, 0.0, 0.02, 0.01, 0.0, 0.02, 0.01, 0.0, 0.02, 0.01, 0.0, 0.02, 0.03, 0.05, 0.08, 0.10, 0.13, 0.15, 0.20, 0.30, 0.40, 0.45, 0.52, 0.55, 0.40, 0.25, 0.15, 0.22, 0.20, 0.15, 0.10, 0.05, 0.02, 0.0, 0.03, 0.08, 0.10, 0.10],
    2: [-0.05, -0.03, -0.02, 0.0, 0.01, 0.0, -0.01, 0.0, 0.01, 0.0, -0.01, 0.0, 0.0, 0.01, 0.0, 0.01, 0.0, 0.02, 0.05, 0.08, 0.10, 0.12, 0.14, 0.15, 0.15, 0.12, 0.05, 0.08, 0.12, 0.18, 0.20, 0.18, 0.15, 0.12, 0.10, 0.06, 0.05, 0.08, 0.10, 0.12, 0.15],
    1: [-0.05, -0.04, -0.03, -0.02, -0.03, -0.02, -0.03, -0.02, -0.03, -0.04, -0.03, -0.02, -0.03, -0.04, -0.05, -0.04, -0.05, -0.06, -0.05, -0.06, -0.07, -0.06, -0.05, -0.07, -0.08, -0.07, -0.08, -0.09, -0.10, -0.08, -0.05, -0.03, 0.0, -0.02, -0.05, -0.03, 0.0, 0.02, 0.0, -0.01, 0.0],
}
TA_DEMG = {
    5: [0.0, 0.0, 0.02, 0.05, 0.18, 0.02, 0.0, 0.05, 0.18, 0.08, 0.05, 0.12, 0.15, 0.35, 0.50, 0.65, 0.85, 1.00, 1.05, 1.20, 1.50, 1.65, 1.30, 0.90, 0.80, 0.70, 0.60, 0.55, 0.58, 0.60, 0.45, 0.35, 0.25, 0.15, 0.10, 0.05, 0.05, 0.08, 0.12, 0.05, 0.0],
    4: [-0.05, -0.03, -0.02, 0.0, 0.02, 0.0, -0.02, 0.0, 0.02, 0.0, 0.02, 0.0, 0.05, 0.15, 0.30, 0.40, 0.50, 0.60, 0.72, 0.95, 1.25, 1.55, 1.70, 1.15, 1.05, 1.10, 0.95, 0.80, 0.65, 0.58, 0.50, 0.35, 0.20, 0.12, 0.06, 0.03, 0.02, 0.0, 0.02, 0.0, 0.0],
    3: [-0.05, -0.04, -0.02, 0.0, 0.01, 0.0, -0.01, 0.0, 0.01, 0.0, 0.02, 0.0, 0.05, 0.12, 0.25, 0.35, 0.45, 0.40, 0.42, 0.55, 0.60, 0.80, 0.95, 1.30, 1.25, 1.20, 1.50, 1.35, 1.00, 0.75, 0.50, 0.35, 0.25, 0.15, 0.08, 0.05, 0.03, 0.02, 0.05, 0.02, 0.0],
    2: [-0.08, -0.06, -0.03, -0.02, 0.0, -0.01, 0.0, 0.0, 0.01, 0.0, 0.01, 0.02, 0.05, 0.06, 0.08, 0.10, 0.12, 0.18, 0.22, 0.28, 0.32, 0.38, 0.42, 0.50, 0.50, 0.48, 0.52, 0.60, 0.68, 0.70, 0.80, 1.00, 0.70, 0.40, 0.35, 0.40, 0.25, 0.20, 0.15, 0.08, 0.0],
    1: [-0.03, -0.02, -0.02, -0.02, -0.01, -0.01, -0.01, -0.01, 0.0, 0.0, 0.0, 0.0, 0.0, 0.0, 0.0, 0.01, 0.01, 0.01, 0.01, 0.0, 0.01, 0.02, 0.02, 0.03, 0.03, 0.04, 0.04, 0.05, 0.05, 0.06, 0.07, 0.08, 0.10, 0.08, 0.06, 0.04, 0.03, 0.02, 0.02, 0.01, 0.0],
}

# ---------------- assembly ----------------
ROW_DATA = [
    {"GM": GM_MTL, "GL": GL_MTL, "SO": SO_MTL, "TA": TA_MTL},
    {"GM": GM_DMTL, "GL": GL_DMTL, "SO": SO_DMTL, "TA": TA_DMTL},
    {"GM": GM_MTV, "GL": GL_MTV, "SO": SO_MTV, "TA": TA_MTV},
    {"GM": GM_DMTV, "GL": GL_DMTV, "SO": SO_DMTV, "TA": TA_DMTV},
    {"GM": GM_EMG, "GL": GL_EMG, "SO": SO_EMG, "TA": TA_EMG},
    {"GM": GM_DEMG, "GL": GL_DEMG, "SO": SO_DEMG, "TA": TA_DEMG},
]
ROW_GRID = [GRID5, GRID5, GRID25, GRID5, GRID25, GRID25]
ROW_KIND = ["cycle", "delta", "cycle", "delta", "emg", "demg"]
ROW_TITLES = ["MTL (norm.)", "\u0394 MTL", "MTV (norm.)", "\u0394 MTV", "EMG (norm.)", "\u0394 EMG"]
ROW_RANGE = [[0.9, 1.061], [-0.01, 0.01], [-0.116, 0.108], [-0.01, 0.01], [-0.03, 2.2], [-0.8, 1.78]]
ROW_TICKS = [
    ([0.9, 1.0], ["0.9", "1"]),
    ([-0.01, 0.0, 0.01], ["-0.01", "0", "0.01"]),
    ([-0.1, 0.0, 0.1], ["-0.1", "0", "0.1"]),
    ([-0.01, -0.005, 0.0, 0.005, 0.01], ["-0.01", "", "", "", "0.01"]),
    ([0, 1, 2], ["0", "1", "2"]),
    ([-0.5, 0, 0.5, 1, 1.5], ["-0.5", "0", "0.5", "1", "1.5"]),
]
XTICKS = [0, 20, 40, 60, 80, 100]

for rd, grid in zip(ROW_DATA, ROW_GRID):
    for m, d in rd.items():
        for key, vals in d.items():
            assert len(vals) == len(grid), (m, key, len(vals), len(grid))

# layout geometry (pixels)
COL_PX = [(33.5, 188.0), (204.5, 359.0), (376.5, 531.0), (548.5, 702.5)]
ROW_PX = [(49, 115), (153, 219), (242, 308), (345, 411), (433, 499), (537, 603)]
AXIS_COLOR = "#7a7a7a"


def px_x(v):
    return v / W


def px_y(v):
    return 1 - v / H


def faded(hex_color, alpha):
    h = hex_color.lstrip("#")
    return "rgba(%d,%d,%d,%.2f)" % (int(h[0:2], 16), int(h[2:4], 16), int(h[4:6], 16), alpha)


fig = go.Figure()
layout = dict(
    width=W, height=H, margin=dict(l=0, r=0, t=0, b=0, pad=0), autosize=False,
    paper_bgcolor="white", plot_bgcolor="white", showlegend=False,
    font=dict(family=SANS, size=10, color="#111"),
)
shapes = []
annotations = []

for r in range(6):
    for c, m in enumerate(MUSCLES):
        k = r * 4 + c + 1
        xn = "x" if k == 1 else f"x{k}"
        yn = "y" if k == 1 else f"y{k}"
        boxed = ROW_KIND[r] in ("delta", "demg")
        layout["xaxis" if k == 1 else f"xaxis{k}"] = dict(
            domain=[px_x(COL_PX[c][0]), px_x(COL_PX[c][1])], anchor=yn, automargin=False,
            range=[0, 100], tickvals=XTICKS, ticks="inside", ticklen=3,
            tickcolor=AXIS_COLOR, showline=True, linecolor=AXIS_COLOR, linewidth=1,
            mirror=boxed, showgrid=False, zeroline=False,
            showticklabels=(r >= 4), tickfont=dict(family=SANS, size=11, color="#111"),
        )
        tv, tt = ROW_TICKS[r]
        layout["yaxis" if k == 1 else f"yaxis{k}"] = dict(
            domain=[px_y(ROW_PX[r][1]), px_y(ROW_PX[r][0])], anchor=xn, automargin=False,
            range=ROW_RANGE[r], tickvals=tv, ticktext=tt, ticks="inside", ticklen=3,
            tickcolor=AXIS_COLOR, showline=True, linecolor=AXIS_COLOR, linewidth=1,
            mirror=boxed, showgrid=False, zeroline=False,
            showticklabels=(c == 0), tickfont=dict(family=SANS, size=10.5, color="#111"),
        )
        grid = ROW_GRID[r]
        d = ROW_DATA[r][m]
        kind = ROW_KIND[r]

        # zero reference line
        if r in (1, 2, 3, 5):
            shapes.append(dict(type="line", xref=f"{xn} domain", yref=yn, x0=0, x1=1, y0=0, y1=0,
                               line=dict(color="#d2d2d2", width=1), layer="below"))
        # event markers (dotted)
        for i in INTENSITIES:
            xs = [PERT_MARK[i]] if kind in ("delta", "demg") else [ONSET[i], OFFSET[i]]
            for xv in xs:
                shapes.append(dict(type="line", xref=xn, yref=f"{yn} domain", x0=xv, x1=xv, y0=0, y1=1,
                                   line=dict(color=faded(COLORS[i], 0.75), width=1, dash="1px,2px"), layer="below"))

        if kind == "cycle":
            fig.add_trace(go.Scatter(x=grid, y=d["unp"], mode="lines", xaxis=xn, yaxis=yn,
                                     line=dict(color="rgba(110,110,120,0.55)", width=6, shape="spline", smoothing=0.8),
                                     hoverinfo="skip"))
            for i in INTENSITIES:
                fig.add_trace(go.Scatter(x=grid, y=d[i], mode="lines", xaxis=xn, yaxis=yn,
                                         line=dict(color=COLORS[i], width=1.6, shape="spline", smoothing=0.8),
                                         name=LEGEND_LABELS[i]))
        elif kind == "delta":
            for i in INTENSITIES:
                fig.add_trace(go.Scatter(x=grid, y=d[i], mode="lines", xaxis=xn, yaxis=yn,
                                         line=dict(color=COLORS[i], width=1.6, shape="spline", smoothing=1.0),
                                         name=LEGEND_LABELS[i]))
        elif kind == "emg":
            fig.add_trace(go.Scatter(x=grid, y=d["lo"], mode="lines", xaxis=xn, yaxis=yn,
                                     line=dict(width=0, color="#bdbdbd"), hoverinfo="skip"))
            fig.add_trace(go.Scatter(x=grid, y=d["up"], mode="lines", xaxis=xn, yaxis=yn, fill="tonexty",
                                     fillcolor="#bdbdbd", line=dict(width=0, color="#bdbdbd"), hoverinfo="skip"))
            for i in INTENSITIES:
                fig.add_trace(go.Scatter(x=grid, y=d[i], mode="lines", xaxis=xn, yaxis=yn,
                                         line=dict(color=COLORS[i], width=1.3), name=LEGEND_LABELS[i]))
            fig.add_trace(go.Scatter(x=grid, y=d["unp"], mode="lines", xaxis=xn, yaxis=yn,
                                     line=dict(color="black", width=1.8), name="Unperturbed"))
        else:
            for i in INTENSITIES:
                fig.add_trace(go.Scatter(x=grid, y=d[i], mode="lines", xaxis=xn, yaxis=yn,
                                         line=dict(color=COLORS[i], width=1.3, shape="spline", smoothing=0.6),
                                         name=LEGEND_LABELS[i]))

        # zoom connectors from parent cycle plot to delta plot
        if kind in ("delta", "demg"):
            px0, px1 = COL_PX[c]
            parent_bottom = ROW_PX[r - 1][1]
            child_top = ROW_PX[r][0]
            xa = px0 + (px1 - px0) * ONSET[5] / 100.0
            xb = px0 + (px1 - px0) * OFFSET[5] / 100.0
            shapes.append(dict(type="line", xref="paper", yref="paper", x0=px_x(xa), y0=px_y(parent_bottom),
                               x1=px_x(px0), y1=px_y(child_top), line=dict(color="#b4b4b4", width=1)))
            shapes.append(dict(type="line", xref="paper", yref="paper", x0=px_x(xb), y0=px_y(parent_bottom),
                               x1=px_x(px1), y1=px_y(child_top), line=dict(color="#b4b4b4", width=1)))

        if r == 4:
            annotations.append(dict(text="Stride cycle (0-100%)", xref="paper", yref="paper",
                                    x=px_x((COL_PX[c][0] + COL_PX[c][1]) / 2), y=px_y(522),
                                    xanchor="center", yanchor="middle",
                                    showarrow=False, font=dict(family=SANS, size=9.5, color="#111")))
        if r == 5:
            annotations.append(dict(text="Perturbation (0-100%)", xref="paper", yref="paper",
                                    x=px_x((COL_PX[c][0] + COL_PX[c][1]) / 2), y=px_y(627),
                                    xanchor="center", yanchor="middle",
                                    showarrow=False, font=dict(family=SANS, size=9.5, color="#111")))

    # row (y-axis) titles
    annotations.append(dict(text=ROW_TITLES[r], xref="paper", yref="paper", textangle=-90,
                            x=px_x(6 if ROW_KIND[r] in ("cycle", "emg") else 10),
                            y=px_y((ROW_PX[r][0] + ROW_PX[r][1]) / 2),
                            xanchor="center", yanchor="middle",
                            showarrow=False, font=dict(family=SANS, size=10, color="#111")))

# titles
annotations.append(dict(text="<b>DECELERATION</b>", xref="paper", yref="paper", x=px_x(363), y=px_y(12),
                        xanchor="center", yanchor="middle",
                        showarrow=False, font=dict(family=SANS, size=16, color="#111")))
for c, m in enumerate(MUSCLES):
    annotations.append(dict(text=f"<b>{m}</b>", xref="paper", yref="paper",
                            x=px_x((COL_PX[c][0] + COL_PX[c][1]) / 2), y=px_y(29),
                            xanchor="center", yanchor="middle",
                            showarrow=False, font=dict(family=SANS, size=15, color="#111")))

# legend box (drawn manually to match the compact MATLAB legend)
shapes.append(dict(type="rect", xref="paper", yref="paper", x0=px_x(665), x1=px_x(748), y0=px_y(97), y1=px_y(1),
                   fillcolor="white", line=dict(color="#555", width=1), layer="above"))
legend_items = [(LEGEND_LABELS[i], COLORS[i], 1.8) for i in [5, 4, 3, 2, 1]] + [("Unperturbed", "#808080", 2.4)]
for j, (lab, col, lw) in enumerate(legend_items):
    yy = 12 + 15.1 * j
    shapes.append(dict(type="line", xref="paper", yref="paper", x0=px_x(670), x1=px_x(695), y0=px_y(yy), y1=px_y(yy),
                       line=dict(color=col, width=lw), layer="above"))
    annotations.append(dict(text=lab, xref="paper", yref="paper", x=px_x(698), y=px_y(yy),
                            xanchor="left", yanchor="middle",
                            showarrow=False, font=dict(family=SANS, size=9, color="#111")))

layout["shapes"] = shapes
layout["annotations"] = annotations
fig.update_layout(**layout)
# remove the default 8px page margin so the 750x635 figure fills the window exactly
fig.write_html("out.html", config={"displayModeBar": False},
               post_script="document.body.style.margin='0';document.body.style.overflow='hidden';")
